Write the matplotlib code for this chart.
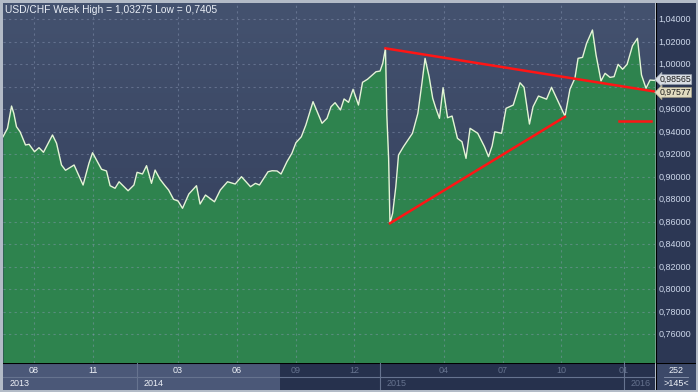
import numpy as np
import matplotlib
matplotlib.use("Agg")
import matplotlib.pyplot as plt
from matplotlib.colors import LinearSegmentedColormap

plt.rcParams['font.family'] = ['Liberation Sans', 'DejaVu Sans']

# weekly USD/CHF closes, x in weeks from the first visible bar
weeks = [0, 1.0, 1.9, 2.4, 3.0, 3.8, 5.0, 5.8, 7.0, 8.0, 9.0, 11.0, 11.9, 13.0, 13.9,
         15.8, 17.8, 19.1, 19.9, 21.9, 23.0, 23.8, 24.9, 25.8, 27.8, 29.1, 29.8, 31.0,
         31.9, 33.0, 33.8, 34.9, 36.0, 36.8, 37.9, 38.9, 39.9, 41.3, 43.0, 43.8, 45.0,
         47.0, 48.3, 49.9, 51.6, 53.0, 55.0, 56.1, 57.0, 58.9, 59.8, 60.9, 61.8, 63.1,
         64.2, 65.1, 66.3, 67.3, 68.9, 70.9, 72.0, 72.9, 73.8, 75.0, 75.8, 76.8, 77.8,
         79.0, 79.9, 81.0, 82.9, 83.8, 84.4, 85.0, 85.3, 85.7, 86.0, 86.6, 87.3, 87.9,
         89.0, 91.0, 92.2, 93.1, 93.8, 94.7, 95.5, 96.2, 97.0, 97.8, 98.8, 99.8, 101.0,
         102.0, 102.9, 103.8, 105.5, 107.0, 107.9, 108.7, 109.3, 110.8, 111.8, 113.4,
         114.9, 115.8, 117.0, 117.8, 119.0, 120.8, 121.9, 124.9, 126.0, 127.1, 127.8,
         128.8, 129.7, 131.0, 131.8, 132.9, 133.8, 134.9, 135.8, 136.7, 137.7, 138.7,
         139.9, 141.0, 141.9, 142.9, 143.8, 144.9]
close = [0.9356, 0.9431, 0.9629, 0.9564, 0.9445, 0.9400, 0.9283, 0.9289, 0.9223, 0.9259,
         0.9218, 0.9372, 0.9298, 0.9105, 0.9058, 0.9105, 0.8927, 0.9120, 0.9214, 0.9067,
         0.9052, 0.8921, 0.8898, 0.8956, 0.8876, 0.8927, 0.9040, 0.9025, 0.9099, 0.8942,
         0.9060, 0.8978, 0.8921, 0.8883, 0.8800, 0.8785, 0.8720, 0.8847, 0.8921, 0.8758,
         0.8838, 0.8778, 0.8883, 0.8956, 0.8936, 0.9001, 0.8912, 0.8942, 0.8927, 0.9045,
         0.9054, 0.9052, 0.9025, 0.9134, 0.9209, 0.9303, 0.9356, 0.9460, 0.9668, 0.9476,
         0.9520, 0.9623, 0.9659, 0.9594, 0.9692, 0.9662, 0.9778, 0.9638, 0.9840, 0.9867,
         0.9934, 0.9940, 1.0009, 1.0142, 0.9550, 0.9164, 0.8587, 0.8676, 0.8912, 0.9194,
         0.9268, 0.9387, 0.9564, 0.9831, 1.0053, 0.9890, 0.9698, 0.9609, 0.9520, 0.9792,
         0.9525, 0.9540, 0.9342, 0.9312, 0.9164, 0.9431, 0.9387, 0.9268, 0.9179, 0.9274,
         0.9400, 0.9387, 0.9609, 0.9638, 0.9836, 0.9796, 0.9469, 0.9623, 0.9718, 0.9690,
         0.9796, 0.9538, 0.9779, 0.9876, 1.0053, 1.0062, 1.0187, 1.0305, 1.0083, 0.9852,
         0.9920, 0.9884, 0.9890, 1.0000, 0.9956, 1.0000, 1.0165, 1.0231, 0.9905, 0.9787,
         0.9860, 0.98565]

# hand drawn lines
upper_trend_x = [85.0, 144.9]
upper_trend_y = [1.0142, 0.97577]
lower_trend_x = [86.0, 124.9]
lower_trend_y = [0.8587, 0.9534]
level_x = [137.0, 144.0]
level_y = [0.95, 0.95]

# axis labels
yticks = [0.76, 0.78, 0.80, 0.82, 0.84, 0.86, 0.88, 0.90, 0.92, 0.94, 0.96, 0.98, 1.00, 1.02, 1.04]
month_pos = [6.9, 20.0, 38.9, 52.0, 65.1, 78.0, 98.0, 111.1, 124.0, 138.0]
month_labels = ['08', '11', '03', '06', '09', '12', '04', '07', '10', '01']
year_pos = [0.0, 29.8, 83.8, 138.0]
year_labels = ['2013', '2014', '2015', '2016']
last_close = 0.98565
trend_end = 0.97577

xmin, xmax = 0, 144.9
ymin, ymax = 0.7345, 1.0545
split_x = 61.6  # where the axis strip turns dark

W, H = 698, 392
fig = plt.figure(figsize=(W / 100, H / 100), dpi=100, facecolor='#b3bbc7')

def box(x0, y0, x1, y1):
    return [x0 / W, 1 - y1 / H, (x1 - x0) / W, (y1 - y0) / H]

ax = fig.add_axes(box(3, 3, 655, 363))
ax_r = fig.add_axes(box(656, 3, 696, 363))
ax_b = fig.add_axes(box(3, 363, 655, 390))
ax_c = fig.add_axes(box(656, 363, 696, 390))

# main panel
grad = LinearSegmentedColormap.from_list('bg', ['#2f3a57', '#44526f'])
ax.imshow(np.linspace(0, 1, 256).reshape(-1, 1), cmap=grad, origin='lower',
          extent=[xmin, xmax, ymin, ymax], aspect='auto', zorder=0)
ax.fill_between(weeks, close, ymin, color='#2e834e', lw=0, zorder=1)
ax.plot(weeks, close, color='#e4f5d6', lw=1.0, zorder=3)
for x in month_pos:
    ax.axvline(x, color='#8d9bb8', alpha=0.45, lw=0.8, ls=(0, (2, 3)), zorder=2)
for y in yticks:
    ax.axhline(y, color='#8d9bb8', alpha=0.45, lw=0.8, ls=(0, (2, 3)), zorder=2)
ax.plot(upper_trend_x, upper_trend_y, color='#ff1515', lw=1.8, zorder=4)
ax.plot(lower_trend_x, lower_trend_y, color='#ff1515', lw=1.8, zorder=4)
ax.plot(level_x, level_y, color='#ff1515', lw=1.8, zorder=4)
ax.set_xlim(xmin, xmax)
ax.set_ylim(ymin, ymax)
ax.set_xticks([])
ax.set_yticks([])
for s in ax.spines.values():
    s.set_visible(False)
ax.text(0.003, 0.995, 'USD/CHF Week High = 1,03275 Low = 0,7405', transform=ax.transAxes,
        ha='left', va='top', fontsize=7.4, color='#e8edf5', zorder=5)

# price scale on the right
ax_r.set_facecolor('#2c3754')
ax_r.set_ylim(ymin, ymax)
ax_r.set_xlim(0, 1)
ax_r.set_xticks([])
ax_r.set_yticks([])
for s in ax_r.spines.values():
    s.set_visible(False)
ax_r.axvline(0, color='black', lw=1.5)
for y in yticks:
    # the price tags cover the scale label next to them
    if abs(y - last_close) < 0.008 or abs(y - trend_end) < 0.008:
        continue
    ax_r.text(0.07, y, f'{y:.5f}'.replace('.', ','), ha='left', va='center',
              fontsize=6.5, color='#cdd7ea')
ax_r.text(0.09, last_close + 0.0008, f'{last_close:.5f}'.replace('.', ','), ha='left',
          va='center', fontsize=6.3, color='#1a1a1a',
          bbox=dict(boxstyle='larrow,pad=0.04', fc='#d9dde3', ec='#9aa3b0', lw=0.5))
ax_r.text(0.09, trend_end - 0.0008, f'{trend_end:.5f}'.replace('.', ','), ha='left',
          va='center', fontsize=6.3, color='#1a1a1a',
          bbox=dict(boxstyle='larrow,pad=0.04', fc='#e2dcc0', ec='#a8a28a', lw=0.5))

# time strip at the bottom
ax_b.set_xlim(xmin, xmax)
ax_b.set_ylim(0, 2)
ax_b.axvspan(xmin, split_x, color='#4b5878', lw=0)
ax_b.axvspan(split_x, xmax, color='#26314d', lw=0)
ax_b.axhline(1, color='#66738f', lw=0.8)
ax_b.axhline(2, color='black', lw=1.5)
for x in year_pos[1:]:
    ax_b.axvline(x, color='#66738f', lw=0.8)
for x, lab in zip(month_pos, month_labels):
    c = '#eef1f7' if x < split_x else '#65728e'
    ax_b.text(x, 1.45, lab, ha='center', va='center', fontsize=6.5, color=c)
for x, lab in zip(year_pos, year_labels):
    c = '#eef1f7' if x < split_x else '#65728e'
    ax_b.text(x + 1.5, 0.5, lab, ha='left', va='center', fontsize=6.5, color=c)
ax_b.set_xticks([])
ax_b.set_yticks([])
for s in ax_b.spines.values():
    s.set_visible(False)

# corner box with bar counts
ax_c.set_facecolor('#3c4969')
ax_c.set_xlim(0, 1)
ax_c.set_ylim(0, 2)
ax_c.axvline(0, color='black', lw=1.5)
ax_c.axhline(2, color='black', lw=1.5)
ax_c.plot([0.2, 0.8], [1.0, 1.0], color='#8e9ab3', lw=0.6)
ax_c.text(0.5, 1.45, '252', ha='center', va='center', fontsize=6.5, color='#eef1f7')
ax_c.text(0.5, 0.5, '>145<', ha='center', va='center', fontsize=6.5, color='#eef1f7')
ax_c.set_xticks([])
ax_c.set_yticks([])
for s in ax_c.spines.values():
    s.set_visible(False)

fig.savefig('out.png', dpi=100, facecolor=fig.get_facecolor())
